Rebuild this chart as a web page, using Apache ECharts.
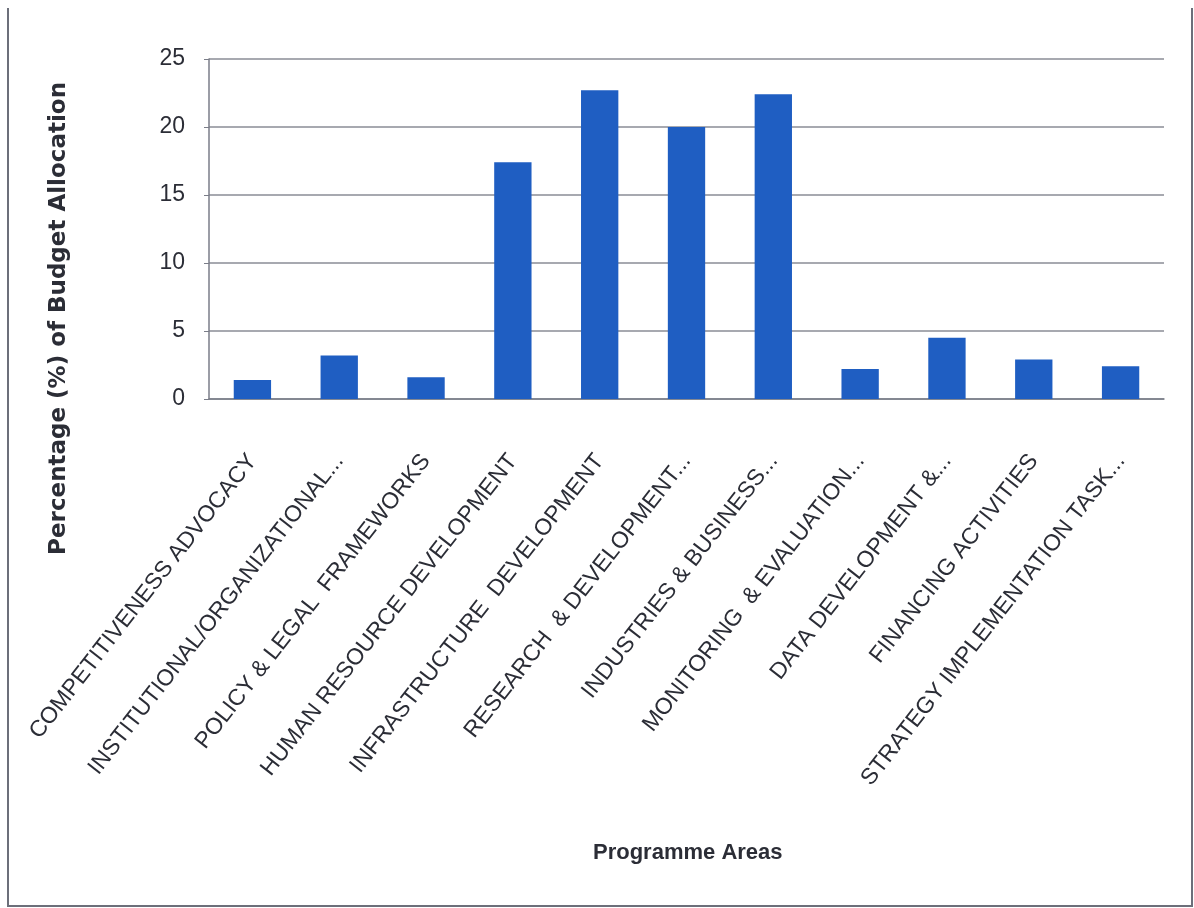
<!DOCTYPE html>
<html>
<head>
<meta charset="utf-8">
<script src="https://cdn.jsdelivr.net/npm/echarts@6/dist/echarts.min.js"></script>
<style>
    html, body { margin: 0; padding: 0; background: #fff; }
    #chart { width: 1194px; height: 908px; }
</style>
</head>
<body>
<div id="chart"></div>
<script>
// programme areas, as labelled (truncated the same way)
var categories = [
    'COMPETITIVENESS ADVOCACY',
    'INSTITUTIONAL/ORGANIZATIONAL...',
    'POLICY & LEGAL  FRAMEWORKS',
    'HUMAN RESOURCE DEVELOPMENT',
    'INFRASTRUCTURE  DEVELOPMENT',
    'RESEARCH  & DEVELOPMENT...',
    'INDUSTRIES & BUSINESS...',
    'MONITORING  & EVALUATION...',
    'DATA DEVELOPMENT &...',
    'FINANCING ACTIVITIES',
    'STRATEGY IMPLEMENTATION TASK...'
];

// % of budget
var allocation = [1.4, 3.2, 1.6, 17.4, 22.7, 20.0, 22.4, 2.2, 4.5, 2.9, 2.4];

var yTicks = [0, 5, 10, 15, 20, 25];

var textColor = '#2b2d36';
var labelFont = '"Liberation Sans", sans-serif';

var chartDom = document.getElementById('chart');
var myChart = echarts.init(chartDom);
var option;

option = {
    backgroundColor: '#ffffff',
    animation: false,
    grid: {
        left: 209,
        right: 30,
        top: 59,
        bottom: 509
    },
    xAxis: {
        type: 'category',
        data: categories,
        axisLine: { lineStyle: { color: '#7a7d88', width: 1.5 } },
        axisTick: { show: false },
        axisLabel: {
            interval: 0,
            rotate: 52,
            margin: 58,
            color: textColor,
            fontSize: 23,
            fontFamily: labelFont
        }
    },
    yAxis: {
        type: 'value',
        min: yTicks[0],
        max: yTicks[yTicks.length - 1],
        interval: 5,
        axisLine: { show: true, lineStyle: { color: '#7a7d88', width: 1.5 } },
        axisTick: { show: true, length: 5, lineStyle: { color: '#7a7d88' } },
        splitLine: { lineStyle: { color: '#8a8c96', width: 1.5 } },
        axisLabel: {
            margin: 24,
            color: textColor,
            fontSize: 23,
            fontFamily: labelFont
        }
    },
    series: [
        {
            type: 'bar',
            data: allocation,
            barWidth: '43%',
            itemStyle: { color: '#1f5ec2' }
        }
    ],
    graphic: [
        {
            type: 'text',
            left: 48,
            top: 82,
            rotation: Math.PI / 2,
            style: {
                text: 'Percentage (%) of Budget Allocation',
                fill: textColor,
                font: 'bold 23px "DejaVu Sans", sans-serif'
            }
        },
        {
            type: 'text',
            left: 593,
            top: 842,
            style: {
                text: 'Programme Areas',
                fill: textColor,
                font: 'bold 22px "Liberation Sans", sans-serif'
            }
        },
        {
            // frame round the picture (no top edge)
            type: 'polyline',
            shape: { points: [[8, 8], [8, 906], [1192, 906], [1192, 8]] },
            style: { stroke: '#6c6f7a', lineWidth: 2, fill: null }
        }
    ]
};

option && myChart.setOption(option);
</script>
</body>
</html>
